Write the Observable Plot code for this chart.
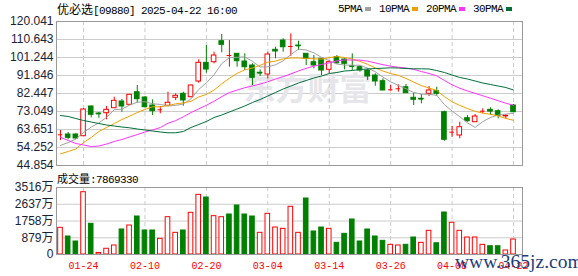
<!DOCTYPE html>
<html><head><meta charset="utf-8">
<script src="https://cdn.jsdelivr.net/npm/d3@7"></script>
<script src="https://cdn.jsdelivr.net/npm/@observablehq/plot@0.6"></script>
<style>
html,body{margin:0;padding:0;background:#fff;}
#wrap{position:relative;width:578px;height:276px;overflow:hidden;background:#fff;}
#price{position:absolute;left:0;top:0;}
#vol{position:absolute;left:0;top:176px;}
.t{position:absolute;white-space:nowrap;color:#000;line-height:14px;}
.mono{font-family:"Liberation Mono",monospace;font-size:11px;letter-spacing:-0.6px;}
.cjk{font-family:"Noto Sans CJK SC",sans-serif;}
#legend{display:flex;align-items:center;}
#legend .it{display:flex;align-items:center;margin-right:8px;}
#legend .sw{display:inline-block;width:6px;height:4px;margin-left:3px;}
#wm{font-family:"Liberation Serif",serif;font-size:19.5px;color:#1c3c78;line-height:20px;}
</style></head><body>
<div id="wrap">
 <div id="price"></div>
 <div id="vol"></div>
 <div class="t" id="title" style="left:57px;top:2px;"></div>
 <div class="t" id="legend" style="left:338px;top:2px;"></div>
 <div class="t" id="vlabel" style="left:57px;top:171px;"></div>
 <div class="t" id="wm" style="left:455px;top:252px;">www.365jz.com</div>
</div>
<script>
const stockName = "优必选";
const stockMeta = "[09880] 2025-04-22 16:00";
const volLabel = "成交量";
const volLast = "7869330";

const dates = ["01-21","01-22","01-23","01-24","01-27","01-28","02-03","02-04","02-05","02-06",
"02-07","02-10","02-11","02-12","02-13","02-14","02-17","02-18","02-19","02-20",
"02-21","02-24","02-25","02-26","02-27","02-28","03-03","03-04","03-05","03-06",
"03-07","03-10","03-11","03-12","03-13","03-14","03-17","03-18","03-19","03-20",
"03-21","03-24","03-25","03-26","03-27","03-28","03-31","04-01","04-02","04-03",
"04-07","04-08","04-09","04-10","04-11","04-14","04-15","04-16","04-17","04-22"];

const open = [60.88,61.04,61.04,60.15,75.66,72.0,72.16,74.77,78.27,76.54,
83.12,80.36,76.18,73.93,76.02,80.2,82.29,80.51,88.71,98.47,
98.79,109.75,102.28,103.17,99.15,97.07,93.3,92.37,105.26,110.1,
106.98,107.5,103.17,98.79,100.56,94.82,101.4,100.2,96.7,96.17,
94.45,91.84,88.87,84.38,84.9,85.73,80.2,79.7,82.29,83.65,
72.68,62.24,60.52,69.55,67.46,73.2,73.93,73.2,70.6,76.18];
const high = [63.1,62.08,61.41,74.61,75.9,72.53,75.66,80.51,79.31,81.9,
86.62,80.88,79.16,75.66,83.12,82.29,83.12,86.9,100.04,107.5,
104.0,113.25,110.1,103.3,103.17,97.95,94.82,104.0,106.6,111.0,
113.6,109.75,103.3,102.28,100.7,99.67,102.28,100.56,103.17,97.07,
95.34,92.73,90.12,86.62,86.99,87.14,82.6,81.92,86.1,85.73,
73.2,65.21,67.46,70.96,71.48,74.46,74.98,73.93,71.32,76.7];
const low = [57.9,58.27,58.27,60.0,69.76,69.55,68.71,74.6,72.68,76.2,
77.38,74.98,70.96,71.85,75.8,78.79,75.81,80.2,87.82,93.04,
97.95,103.69,96.2,96.17,94.45,86.62,91.32,90.12,100.56,104.0,
101.8,104.9,97.07,95.34,91.84,92.73,97.6,94.82,94.45,93.57,
89.23,86.26,84.0,83.65,83.12,82.6,76.18,77.07,80.88,80.88,
57.54,59.63,58.79,67.46,67.4,71.85,70.96,69.23,69.03,72.5];
const close = [60.88,59.31,58.95,74.09,71.32,71.8,73.93,78.63,75.66,81.77,
79.47,75.29,73.2,73.93,77.59,81.24,78.79,86.62,98.47,94.97,
102.28,107.87,102.28,99.31,96.17,90.64,93.1,102.8,104.37,106.6,
106.98,107.3,100.56,97.07,94.45,98.79,98.27,97.95,96.54,94.45,
91.32,88.71,84.01,84.38,84.9,82.6,79.16,79.5,84.01,82.29,
58.27,62.24,64.85,67.98,70.44,73.2,73.0,70.7,70.8,72.68];
// volume in 万
const volume = [1400,945,682,3270,1611,80,300,472,1312,1522,
1994,1260,1260,822,1958,1137,1260,2187,3131,2991,
2012,1958,2099,2572,2099,1994,1137,2134,1417,1347,
2502,1137,2939,1207,1417,1347,612,1085,1837,682,
1312,945,717,507,472,507,892,612,1242,590,
2204,1663,1242,892,892,507,435,435,210,786.9];

const ma5 = [55.3,56.86,58.69,62.08,64.91,67.09,70.02,73.95,74.27,76.36,
77.89,78.16,77.08,76.73,75.9,76.25,76.95,79.63,84.54,88.02,
92.23,98.04,101.17,101.34,101.58,99.25,96.3,96.4,97.42,99.5,
102.77,105.61,105.16,103.7,101.27,99.63,97.83,97.31,97.2,97.2,
95.71,93.79,91.01,88.57,86.66,84.92,83.01,82.11,82.03,81.51,
76.65,73.26,70.33,67.13,64.76,67.74,69.93,71.16,71.68,72.13];
const ma10 = [50.96,52.16,53.47,56.86,59.47,62.6,64.69,66.78,68.87,70.63,
72.49,74.09,75.52,75.5,76.13,77.07,77.56,78.36,80.64,81.96,
84.24,87.5,90.4,92.94,94.8,95.74,97.17,98.79,99.38,100.54,
101.01,100.96,100.78,100.56,100.39,101.2,101.72,101.24,100.45,99.24,
97.67,95.81,94.16,92.89,91.93,90.32,88.4,86.56,85.3,84.09,
80.79,78.14,76.22,74.58,73.14,72.2,71.6,70.75,69.41,68.45];
const ma20 = [59.63,57.91,56.34,55.56,54.77,55.03,56.08,57.38,58.43,59.73,
61.04,62.34,63.39,64.69,66.9,68.3,70.3,72.5,74.4,76.3,
78.37,80.8,82.96,84.22,85.47,86.41,87.37,88.58,90.01,91.25,
92.63,94.23,95.59,96.75,97.6,98.47,99.45,100.02,99.92,99.89,
99.34,98.39,97.47,96.73,96.16,95.76,95.06,93.9,92.88,91.67,
89.23,86.98,85.19,83.74,82.54,81.26,80.0,78.66,77.36,76.27];
const ma30 = [70.96,70.44,69.39,68.35,67.56,66.78,66.0,65.48,64.95,64.54,
63.91,63.39,62.87,62.34,61.93,61.93,62.6,64.69,66.26,67.83,
69.91,71.22,72.78,74.35,75.92,77.75,79.31,81.14,82.97,84.8,
86.36,87.93,89.23,90.54,91.58,92.89,93.41,94.19,94.45,94.97,
95.24,95.5,95.65,95.86,95.76,95.5,95.34,95.34,95.24,94.45,
93.41,92.1,90.8,90.02,88.97,87.93,87.14,86.36,85.58,84.27];

const priceTicks = [44.854,54.252,63.651,73.049,82.447,91.846,101.244,110.643,120.041];
const volTicks = [0,879,1758,2637,3516];
const dateTicks = ["01-24","02-10","02-20","03-04","03-14","03-26","04-08","04-22"];
const maNames = ["5PMA","10PMA","20PMA","30PMA"];

const RED = "#ff0000", GREEN = "#008000", GRID = "#cccccc", FRAME = "#999999", LABEL = "#1a2233";
const maColors = ["#a0a0a0","#f0a000","#ff33ff","#006f3a"];
const maSeries = [ma5, ma10, ma20, ma30];

const rows = dates.map((d, i) => ({
  i, d, o: open[i], h: high[i], l: low[i], c: close[i], v: volume[i],
  up: close[i] >= open[i],
  vup: i === 0 ? true : close[i] >= close[i - 1]
}));
const tickIdx = dateTicks.map(t => dates.indexOf(t));
const xDomain = [-0.52, 60.17];
const hw = 0.3;

const price = Plot.plot({
  width: 578, height: 176,
  marginLeft: 56, marginRight: 56, marginTop: 21, marginBottom: 11,
  style: {background: "transparent", fontFamily: "Liberation Sans, sans-serif"},
  x: {domain: xDomain, axis: null, label: null},
  y: {domain: [44.854, 120.041], axis: null, label: null},
  color: {type: "identity"},
  marks: [
    Plot.ruleY(priceTicks, {stroke: GRID}),
    Plot.text(["东方财富"], {frameAnchor: "middle", dx: 18, dy: -4, fontSize: 32, fontWeight: "bold",
      fill: "#e6e6ea", fontFamily: "Noto Sans CJK SC", letterSpacing: 3}),
    Plot.ruleX(tickIdx, {stroke: GRID, strokeDasharray: "4,3"}),
    Plot.ruleX(rows, {x: "i", y1: "l", y2: "h", stroke: d => d.up ? RED : GREEN}),
    Plot.rect(rows, {x1: d => d.i - hw, x2: d => d.i + hw, y1: "o", y2: "c",
      fill: d => d.up ? "#ffffff" : GREEN, stroke: d => d.up ? RED : GREEN}),
    Plot.ruleY(rows.filter(d => Math.abs(d.c - d.o) < 0.4), {y: "c", x1: d => d.i - hw, x2: d => d.i + hw,
      stroke: d => d.up ? RED : GREEN}),
    ...maSeries.map((s, k) => Plot.lineY(s, {stroke: maColors[k], strokeWidth: 1})),
    Plot.axisY(priceTicks, {anchor: "left", label: null, tickSize: 0, tickPadding: 3, tickFormat: d => d.toFixed(3),
      fill: LABEL, fontSize: 12, fontFamily: "Liberation Sans"}),
    Plot.frame({stroke: FRAME})
  ]
});
document.getElementById("price").appendChild(price);

const vol = Plot.plot({
  width: 578, height: 100,
  marginLeft: 56, marginRight: 56, marginTop: 11, marginBottom: 22,
  style: {background: "transparent", fontFamily: "Liberation Sans, sans-serif"},
  x: {domain: xDomain, axis: null, label: null},
  y: {domain: [0, 3516], axis: null, label: null},
  color: {type: "identity"},
  marks: [
    Plot.ruleY(volTicks, {stroke: GRID}),
    Plot.ruleX(tickIdx, {stroke: GRID, strokeDasharray: "4,3"}),
    Plot.rect(rows, {x1: d => d.i - hw, x2: d => d.i + hw, y1: 0, y2: "v",
      fill: d => d.vup ? "#ffffff" : GREEN, stroke: d => d.vup ? RED : GREEN}),
    Plot.axisY(volTicks, {anchor: "left", label: null, tickSize: 0, tickPadding: 3,
      tickFormat: d => d === 0 ? "0" : d + "万", fill: LABEL, fontSize: 12, fontFamily: "Liberation Sans, Noto Sans CJK SC"}),
    Plot.axisX(tickIdx, {anchor: "bottom", label: null, tickSize: 0, tickPadding: 7, tickFormat: i => dates[i],
      fill: RED, fontSize: 10, fontFamily: "Liberation Mono"}),
    Plot.frame({stroke: FRAME})
  ]
});
document.getElementById("vol").appendChild(vol);

document.getElementById("title").innerHTML =
  `<span class="cjk" style="font-size:12px">${stockName}</span><span class="mono">${stockMeta}</span>`;
document.getElementById("legend").innerHTML = maNames.map((n, k) =>
  `<span class="it"><span class="mono">${n}</span><span class="sw" style="background:${maColors[k]}"></span></span>`).join("");
document.getElementById("vlabel").innerHTML =
  `<span class="cjk" style="font-size:11px">${volLabel}</span><span class="mono">:${volLast}</span>`;
</script>
</body></html>
